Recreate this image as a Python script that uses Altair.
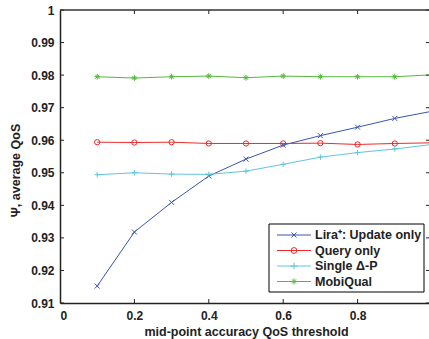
import altair as alt
import pandas as pd

# Mid-point accuracy QoS threshold values
thresholds = [0.1, 0.2, 0.3, 0.4, 0.5, 0.6, 0.7, 0.8, 0.9, 1.0]

# Average QoS (Psi) for each approach
lira_update = [0.9152, 0.9318, 0.9409, 0.9490, 0.9542, 0.9585, 0.9614, 0.9640, 0.9667, 0.9689]
query_only = [0.9594, 0.9593, 0.9594, 0.9590, 0.9590, 0.9590, 0.9591, 0.9587, 0.9590, 0.9592]
single_dp = [0.9494, 0.9500, 0.9496, 0.9495, 0.9505, 0.9526, 0.9548, 0.9562, 0.9573, 0.9587]
mobiqual = [0.9795, 0.9791, 0.9795, 0.9797, 0.9792, 0.9797, 0.9795, 0.9795, 0.9795, 0.9801]

series_names = ["Lira\u207a: Update only", "Query only", "Single \u0394-P", "MobiQual"]
series_values = [lira_update, query_only, single_dp, mobiqual]
series_colors = ["#3a55b0", "#ee2a2a", "#5fc6dc", "#56b83c"]

# Marker glyphs: x, open circle, plus, asterisk
marker_shapes = [
    "M-1,-1L1,1M-1,1L1,-1",
    "circle",
    "M-1,0L1,0M0,-1L0,1",
    "M-1,0L1,0M0,-1L0,1M-0.7,-0.7L0.7,0.7M-0.7,0.7L0.7,-0.7",
]
marker_sizes = [25, 34, 49, 36]

y_ticks = [0.91, 0.92, 0.93, 0.94, 0.95, 0.96, 0.97, 0.98, 0.99, 1.0]
x_ticks = [0, 0.2, 0.4, 0.6, 0.8, 1.0]

FONT = "Liberation Sans"
INK = "#222222"
W, H = 369, 293

rows = []
for name, vals in zip(series_names, series_values):
    for t, v in zip(thresholds, vals):
        rows.append({"series": name, "x": t, "y": v})
df = pd.DataFrame(rows)

x_scale = alt.Scale(domain=[0, 0.992], nice=False, zero=False)
y_scale = alt.Scale(domain=[0.91, 1.0], nice=False, zero=False)

x_axis = alt.Axis(
    values=x_ticks,
    labelExpr="datum.value == 0 ? '0' : (datum.value == 1 ? '1' : format(datum.value, '.1f'))",
    title="mid-point accuracy QoS threshold",
    titleFont=FONT, titleFontSize=12.5, titleFontWeight="bold", titleColor=INK,
    titleX=186, titlePadding=4,
    labelFont=FONT, labelFontSize=12, labelFontWeight="bold", labelColor=INK,
    labelPadding=7, tickSize=0, grid=False,
    domainColor=INK, domainWidth=1.5,
)
y_axis = alt.Axis(
    values=y_ticks,
    labelExpr="datum.value == 1 ? '1' : format(datum.value, '.2f')",
    title="\u03a8, average QoS",
    titleFont=FONT, titleFontSize=12.5, titleFontWeight="bold", titleColor=INK,
    titleX=-41, titleY=160, titleBaseline="alphabetic",
    labelFont=FONT, labelFontSize=12, labelFontWeight="bold", labelColor=INK,
    labelPadding=6, tickSize=0, grid=False,
    domainColor=INK, domainWidth=1.5,
)

X = alt.X("x:Q", scale=x_scale, axis=x_axis)
Y = alt.Y("y:Q", scale=y_scale, axis=y_axis)

color = alt.Color("series:N", scale=alt.Scale(domain=series_names, range=series_colors), legend=None)

lines = alt.Chart(df).mark_line(strokeWidth=1, clip=True).encode(x=X, y=Y, color=color)

points = alt.Chart(df).mark_point(filled=False, strokeWidth=1, opacity=1, clip=True).encode(
    x=X,
    y=Y,
    color=color,
    shape=alt.Shape("series:N", scale=alt.Scale(domain=series_names, range=marker_shapes), legend=None),
    size=alt.Size("series:N", scale=alt.Scale(domain=series_names, range=marker_sizes), legend=None),
)

yt = pd.DataFrame({"y": y_ticks})
xt = pd.DataFrame({"x": x_ticks})
tick_style = dict(color=INK, strokeWidth=1)

# Inward-pointing tick marks on all four sides
left_ticks = alt.Chart(yt).mark_rule(**tick_style).encode(y=Y, x=alt.value(0), x2=alt.value(4))
right_ticks = alt.Chart(yt).mark_rule(**tick_style).encode(y=Y, x=alt.value(W - 3), x2=alt.value(W))
bottom_ticks = alt.Chart(xt).mark_rule(clip=True, **tick_style).encode(x=X, y=alt.value(H), y2=alt.value(H - 4))
top_ticks = alt.Chart(xt).mark_rule(clip=True, **tick_style).encode(x=X, y=alt.value(0), y2=alt.value(4))

one = pd.DataFrame({"k": [0]})
top_border = alt.Chart(one).mark_rule(color="#333333", strokeWidth=1.5).encode(
    x=alt.value(0), x2=alt.value(W), y=alt.value(0))

# Legend box in the lower-right corner of the plot
legend_layers = [
    alt.Chart(one).mark_rect(fill="white", stroke="black", strokeWidth=1).encode(
        x=alt.value(209), x2=alt.value(364), y=alt.value(214), y2=alt.value(282))
]
row_y = [225, 240.5, 256, 271.5]
for name, col, shp, sz, ry in zip(series_names, series_colors, marker_shapes, marker_sizes, row_y):
    legend_layers.append(
        alt.Chart(one).mark_rule(color=col, strokeWidth=1).encode(
            x=alt.value(217), x2=alt.value(251), y=alt.value(ry)))
    legend_layers.append(
        alt.Chart(one).mark_point(shape=shp, size=sz, filled=False, color=col, strokeWidth=1, opacity=1).encode(
            x=alt.value(234), y=alt.value(ry)))
    legend_layers.append(
        alt.Chart(one).mark_text(align="left", baseline="middle", font=FONT, fontSize=12.5,
                                 fontWeight="bold", color=INK).encode(
            x=alt.value(255), y=alt.value(ry), text=alt.value(name)))

chart = alt.layer(
    lines, points, left_ticks, right_ticks, bottom_ticks, top_ticks, top_border, *legend_layers
).properties(
    width=W,
    height=H,
    padding={"left": 60, "top": 10, "right": 0, "bottom": 36},
    autosize=alt.AutoSizeParams(type="none"),
    background="white",
).configure_view(strokeWidth=0)

chart.save("out.html", embed_options={"renderer": "svg", "actions": False})
